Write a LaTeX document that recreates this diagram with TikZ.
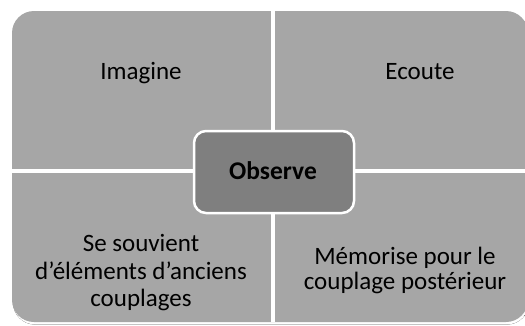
\documentclass[tikz,border=0pt]{standalone}
\usepackage{fontspec}
\setmainfont{Carlito}
\definecolor{quad}{HTML}{A6A6A6}
\definecolor{centre}{HTML}{7F7F7F}
\definecolor{shade}{HTML}{E0E0E0}
\begin{document}
\begin{tikzpicture}[x=1pt,y=-1pt,
  lbl/.style={align=center,font=\fontsize{25}{27.5}\selectfont,text=black,inner sep=0pt},
  sep/.style={draw=white,line width=3.5pt},
  centrebox/.style={draw=white,line width=2.5pt,fill=centre,rounded corners=12pt}]
\useasboundingbox (0,0) rectangle (525,325);
\clip (0,0) rectangle (525,325);
% shadow
\fill[shade,rounded corners=22pt] (13,13) rectangle (529,324.5);
% main shape
\fill[quad,rounded corners=22pt] (12,11) rectangle (528,322);
% separators
\coordinate (vt) at (273,11);
\coordinate (vb) at (273,322);
\coordinate (hl) at (12,171);
\coordinate (hr) at (528,171);
\draw[sep] (vt) -- (vb);
\draw[sep] (hl) -- (hr);
% centre
\node[centrebox,minimum width=160pt,minimum height=82pt,inner sep=0pt] (obs) at (274,172) {};
\node[anchor=base,inner sep=0pt,font=\fontsize{25.5}{28}\selectfont\bfseries] (obt) at (273,179.5) {Observe};
% labels
\node[lbl,anchor=base] (ima) at (141,79) {Imagine};
\node[lbl,anchor=base] (eco) at (420,79) {Ecoute};
\node[lbl,anchor=base] (sou) at (141,306.7) {Se souvient\\d’éléments d’anciens\\couplages};
\node[lbl,anchor=base,font=\fontsize{25}{25}\selectfont] (mem) at (405,289.3) {Mémorise pour le\\couplage postérieur};
\end{tikzpicture}
\end{document}
